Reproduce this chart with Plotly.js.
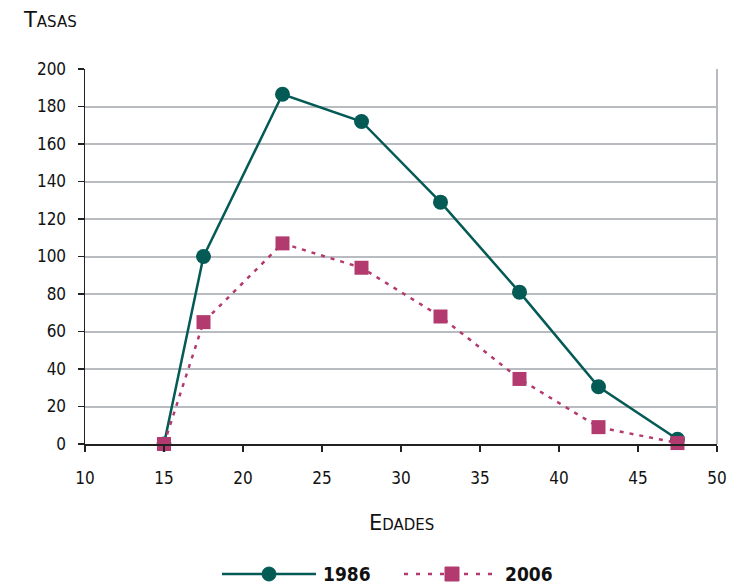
<!DOCTYPE html>
<html>
<head>
<meta charset="utf-8">
<script src="https://cdn.plot.ly/plotly-3.0.1.min.js"></script>
<style>body{margin:0;background:#fff;}#chart{width:738px;height:587px;}</style>
</head>
<body>
<div id="chart"></div>
<script>
const edades = [15, 17.5, 22.5, 27.5, 32.5, 37.5, 42.5, 47.5];
const tasas1986 = [0, 100, 186.5, 172, 129, 81, 30.5, 2.5];
const tasas2006 = [0, 65, 107, 94, 68, 34.7, 9, 0.5];
const serieNames = ['1986', '2006'];
const xTicks = [10, 15, 20, 25, 30, 35, 40, 45, 50];
const yTicks = [0, 20, 40, 60, 80, 100, 120, 140, 160, 180, 200];

const GREEN = '#045a55';
const PINK = '#b23a6f';
const FONT = '"DejaVu Sans Condensed", "Liberation Sans Narrow", sans-serif';
const TFONT = '"DejaVu Sans", sans-serif';

const W = 738, H = 587;
const M = {l: 85, r: 21, t: 69, b: 143};
const pw = W - M.l - M.r, ph = H - M.t - M.b;
const px = x => (x - M.l) / pw;
const py = y => (H - M.b - y) / ph;

const traces = [
  {x: edades, y: tasas1986, name: serieNames[0], type: 'scatter', mode: 'lines+markers',
   line: {color: GREEN, width: 2.5}, marker: {color: GREEN, size: 15, symbol: 'circle'}, cliponaxis: false},
  {x: edades, y: tasas2006, name: serieNames[1], type: 'scatter', mode: 'lines+markers',
   line: {color: PINK, width: 2.5, dash: '4px,6px'}, marker: {color: PINK, size: 14, symbol: 'square'}, cliponaxis: false}
];

// legend drawn manually (long line samples)
const legY = py(574);
const shapes = [
  {type: 'line', xref: 'paper', yref: 'paper', x0: 1, x1: 1, y0: 0, y1: 1, line: {color: '#b8bcc0', width: 2}},
  {type: 'line', xref: 'paper', yref: 'paper', x0: px(222), x1: px(316), y0: legY, y1: legY, line: {color: GREEN, width: 2.5}},
  {type: 'circle', xref: 'paper', yref: 'paper', x0: px(262), x1: px(276), y0: py(581), y1: py(567), fillcolor: GREEN, line: {color: GREEN, width: 1}},
  {type: 'line', xref: 'paper', yref: 'paper', x0: px(404), x1: px(498), y0: legY, y1: legY, line: {color: PINK, width: 2.5, dash: '4px,8px'}},
  {type: 'rect', xref: 'paper', yref: 'paper', x0: px(445), x1: px(459), y0: py(581), y1: py(567), fillcolor: PINK, line: {color: PINK, width: 1}}
];

const annotations = [
  {text: 'Tasas', xref: 'paper', yref: 'paper', x: px(21), y: py(20), xanchor: 'left', yanchor: 'middle',
   showarrow: false, font: {family: TFONT, size: 21, color: '#111', variant: 'small-caps'}},
  {text: 'Edades', xref: 'paper', yref: 'paper', x: px(401), y: py(523), xanchor: 'center', yanchor: 'middle',
   showarrow: false, font: {family: TFONT, size: 21, color: '#111', variant: 'small-caps'}},
  {text: '<b>' + serieNames[0] + '</b>', xref: 'paper', yref: 'paper', x: px(321), y: legY, xanchor: 'left', yanchor: 'middle',
   showarrow: false, font: {family: FONT, size: 19, color: '#111'}},
  {text: '<b>' + serieNames[1] + '</b>', xref: 'paper', yref: 'paper', x: px(503), y: legY, xanchor: 'left', yanchor: 'middle',
   showarrow: false, font: {family: FONT, size: 19, color: '#111'}}
];

const layout = {
  width: W, height: H,
  margin: M,
  paper_bgcolor: '#fff', plot_bgcolor: '#fff',
  showlegend: false,
  font: {family: FONT, size: 17, color: '#111'},
  xaxis: {range: [10, 50], tickvals: xTicks, ticktext: xTicks.map(String), showgrid: false, zeroline: false,
          showline: true, linecolor: '#222', linewidth: 1.5, ticks: 'outside', ticklen: 6, tickcolor: '#222', tickwidth: 1.5,
          ticklabelstandoff: 12, tickfont: {family: FONT, size: 17, color: '#111'}},
  yaxis: {range: [0, 200], tickvals: yTicks, ticktext: yTicks.map(String), showgrid: true, gridcolor: '#b8bcc0', gridwidth: 2,
          zeroline: false, showline: true, linecolor: '#222', linewidth: 1.5, ticks: 'outside', ticklen: 6, tickcolor: '#222', tickwidth: 1.5,
          ticklabelstandoff: 8, tickfont: {family: FONT, size: 17, color: '#111'}},
  shapes: shapes,
  annotations: annotations
};

Plotly.newPlot('chart', traces, layout, {displayModeBar: false, staticPlot: true});
</script>
</body>
</html>
